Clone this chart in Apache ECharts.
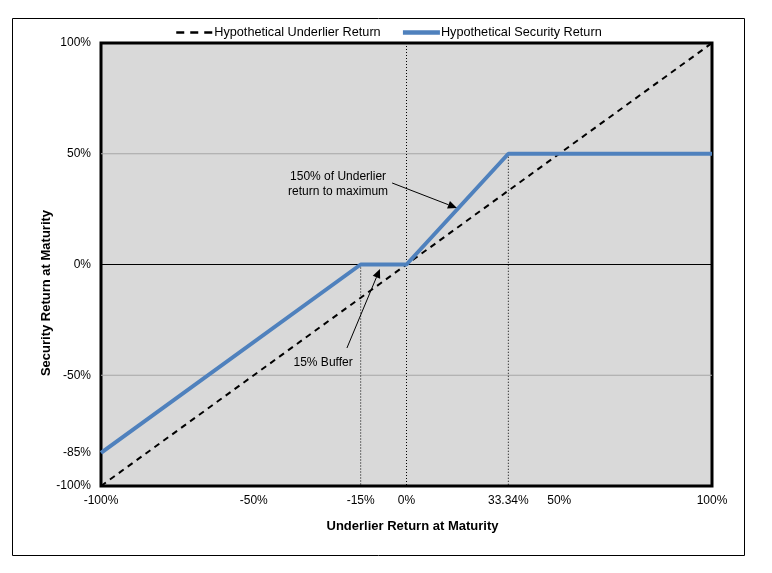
<!DOCTYPE html>
<html><head><meta charset="utf-8">
<script src="https://cdn.jsdelivr.net/npm/echarts@6/dist/echarts.min.js"></script>
<style>html,body{margin:0;padding:0;background:#fff}#c{width:772px;height:573px}</style>
</head><body><div id="c"></div>
<script>
// ---- data ----
const xTicks = [-100, -50, -15, 0, 33.34, 50, 100];
const yTicks = [-100, -85, -50, 0, 50, 100];
const underlierReturn = [[-100, -100], [100, 100]];
const securityReturn = [[-100, -85], [-15, 0], [0, 0], [33.34, 50], [100, 50]];
const grayLevels = [50, -50];
const blackLevels = [0];
const guideLines = [
  [[-15, 0], [-15, -100]],
  [[0, 100], [0, -100]],
  [[33.34, 50], [33.34, -100]]
];
const xTitle = 'Underlier Return at Maturity';
const yTitle = 'Security Return at Maturity';
const names = ['Hypothetical Underlier Return', 'Hypothetical Security Return'];
// annotation anchors in data space
const noteLever = { text: '150% of Underlier\nreturn to maximum', at: [-22.4, 36.1], from: [-4.7, 36.8], to: [16.5, 25.5] };
const noteBuffer = { text: '15% Buffer', at: [-27.3, -44.5], from: [-19.5, -37.7], to: [-8.7, -2.0] };

const fmt = v => (Math.round(v * 100) / 100) + '%';
const font = 'Liberation Sans, Arial, sans-serif';

const chart = echarts.init(document.getElementById('c'), null, { renderer: 'canvas' });

const series = [];
grayLevels.forEach(v => series.push({
  type: 'line', data: [[-100, v], [100, v]], symbol: 'none', silent: true, z: 1,
  lineStyle: { color: '#a6a6a6', width: 1 }
}));
blackLevels.forEach(v => series.push({
  type: 'line', data: [[-100, v], [100, v]], symbol: 'none', silent: true, z: 1,
  lineStyle: { color: '#000', width: 1 }
}));
guideLines.forEach(seg => series.push({
  type: 'line', data: seg, symbol: 'none', silent: true, z: 1,
  lineStyle: { color: '#000', width: 1, type: [1, 2] }
}));
series.push({
  name: names[0], type: 'line', data: underlierReturn, symbol: 'none', z: 3,
  lineStyle: { color: '#000', width: 2, type: [6, 5] }, itemStyle: { color: '#000' }
});
series.push({
  name: names[1], type: 'line', data: securityReturn, symbol: 'none', z: 4,
  lineStyle: { color: '#4f81bd', width: 4 }, itemStyle: { color: '#4f81bd' }
});

chart.setOption({
  animation: false,
  backgroundColor: '#fff',
  textStyle: { fontFamily: font },
  legend: {
    top: 21, left: 170, itemWidth: 37, itemHeight: 12, itemGap: 20,
    itemStyle: { opacity: 0 },
    data: [
      { name: names[0], lineStyle: { width: 2.5, type: [8, 6], color: '#000' } },
      { name: names[1], lineStyle: { width: 4.5, color: '#4f81bd' } }
    ],
    textStyle: { fontFamily: font, fontSize: 12.7, color: '#000', padding: [0, 0, 0, -4] }
  },
  grid: {
    left: 101, right: 60, top: 43, bottom: 87, show: true,
    backgroundColor: '#d9d9d9', borderColor: '#000', borderWidth: 3
  },
  xAxis: {
    type: 'value', min: -100, max: 100,
    axisLine: { show: false }, axisTick: { show: false }, splitLine: { show: false },
    axisLabel: { customValues: xTicks, formatter: fmt, fontSize: 12, color: '#000', margin: 9 }
  },
  yAxis: {
    type: 'value', min: -100, max: 100,
    axisLine: { show: false }, axisTick: { show: false }, splitLine: { show: false },
    axisLabel: { customValues: yTicks, formatter: fmt, fontSize: 12, color: '#000', margin: 10 }
  },
  series: series
});

function px(p) { return chart.convertToPixel({ gridIndex: 0 }, p); }
function arrow(n) {
  const a = px(n.from), b = px(n.to);
  const ang = Math.atan2(b[1] - a[1], b[0] - a[0]);
  const L = 9, W = 4;
  const bx = b[0] - L * Math.cos(ang), by = b[1] - L * Math.sin(ang);
  const nx = -Math.sin(ang) * W, ny = Math.cos(ang) * W;
  return [
    { type: 'line', shape: { x1: a[0], y1: a[1], x2: bx, y2: by }, style: { stroke: '#000', lineWidth: 1 }, z: 10 },
    { type: 'polygon', shape: { points: [[b[0], b[1]], [bx + nx, by + ny], [bx - nx, by - ny]] }, style: { fill: '#000' }, z: 10 }
  ];
}
function label(n) {
  const p = px(n.at);
  return { type: 'text', x: p[0], y: p[1], z: 10,
    style: { text: n.text, fill: '#000', font: '12px ' + font, align: 'center', verticalAlign: 'middle', lineHeight: 15 } };
}
chart.setOption({
  graphic: [
    { type: 'rect', shape: { x: 12.5, y: 18.5, width: 732, height: 537 }, style: { fill: null, stroke: '#000', lineWidth: 1 }, z: 0, silent: true },
    { type: 'text', x: 412.5, y: 526, z: 10,
      style: { text: xTitle, fill: '#000', font: 'bold 13px ' + font, align: 'center', verticalAlign: 'middle' } },
    { type: 'text', x: 46, y: 293, rotation: Math.PI / 2, z: 10,
      style: { text: yTitle, fill: '#000', font: 'bold 13px ' + font, align: 'center', verticalAlign: 'middle' } },
    ...arrow(noteLever), ...arrow(noteBuffer), label(noteLever), label(noteBuffer)
  ]
});
</script></body></html>
